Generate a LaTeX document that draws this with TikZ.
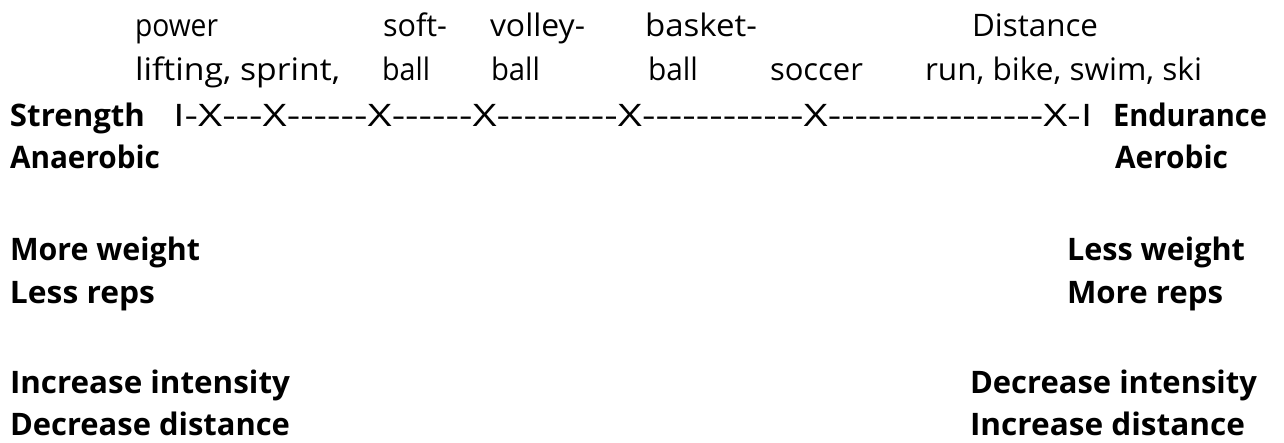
\documentclass[tikz,border=0pt]{standalone}
\usepackage{fontspec}
\setmainfont{Open Sans}[Ligatures=TeXOff]
\usepackage{graphicx}
\newcommand{\fitw}[2]{\resizebox{#1pt}{\height}{#2}}
\begin{document}
\begin{tikzpicture}[x=1pt,y=-1pt,
  lbl/.style={anchor=base west, inner sep=0pt, outer sep=0pt, font=\fontsize{31}{36}\selectfont},
  blbl/.style={anchor=base west, inner sep=0pt, outer sep=0pt, font=\fontsize{31}{36}\selectfont\bfseries}]
\useasboundingbox[fill=white] (0,0) rectangle (1284,442);
% row 1
\node[lbl] (power) at (135,36) {\fitw{83}{power}};
\node[lbl] (soft) at (383,36) {\fitw{64}{soft-}};
\node[lbl] (volley) at (490,36) {\fitw{95}{volley-}};
\node[lbl] (basket) at (645,36) {\fitw{112}{basket-}};
\node[lbl] (distance) at (972,36) {\fitw{126}{Distance}};
% row 2
\node[lbl] (lifting) at (135,80) {\fitw{205}{lifting, sprint,}};
\node[lbl] (ball1) at (382,80) {\fitw{48}{ball}};
\node[lbl] (ball2) at (491,80) {\fitw{49}{ball}};
\node[lbl] (ball3) at (648,80) {\fitw{50}{ball}};
\node[lbl] (soccer) at (770,80) {\fitw{93}{soccer}};
\node[lbl] (run) at (925,80) {\fitw{277}{run, bike, swim, ski}};
% row 3
\node[blbl] (strength) at (10,126.5) {\fitw{135}{Strength}};
\node[lbl] (scale) at (173,126.5) {\fitw{919}{I-X---X------X------X---------X------------X----------------X-I}};
\node[blbl] (endurance) at (1113,126.5) {\fitw{154}{Endurance}};
% row 4
\node[blbl] (anaerobic) at (10,168) {\fitw{150}{Anaerobic}};
\node[blbl] (aerobic) at (1115,168) {\fitw{113}{Aerobic}};
% row 5
\node[blbl] (moreweight) at (10,260) {\fitw{190}{More weight}};
\node[blbl] (lessweight) at (1067,260) {\fitw{178}{Less weight}};
% row 6
\node[blbl] (lessreps) at (10,303) {\fitw{145}{Less reps}};
\node[blbl] (morereps) at (1067,303) {\fitw{156}{More reps}};
% row 7
\node[blbl] (incint) at (10,393) {\fitw{280}{Increase intensity}};
\node[blbl] (decint) at (970,393) {\fitw{287}{Decrease intensity}};
% row 8
\node[blbl] (decdist) at (10,435) {\fitw{280}{Decrease distance}};
\node[blbl] (incdist) at (970,435) {\fitw{275}{Increase distance}};
\end{tikzpicture}
\end{document}
